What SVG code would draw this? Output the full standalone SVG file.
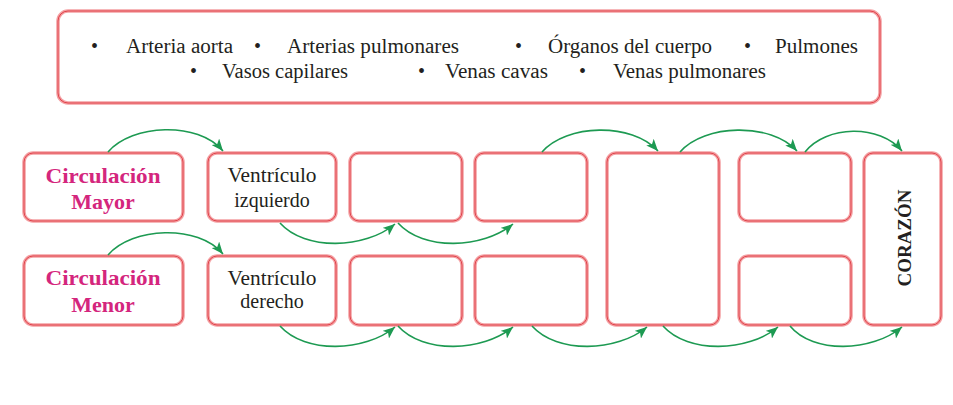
<svg xmlns="http://www.w3.org/2000/svg" width="953" height="405" viewBox="0 0 953 405">
<style>
.bx{fill:#fff;stroke:#f4a0a3;stroke-width:3.5}
.bi{fill:none;stroke:#e0424a;stroke-width:1}
.ar{fill:none;stroke:#1d9a52;stroke-width:1.6;marker-end:url(#ah)}
</style>
<defs>
<marker id="ah" markerUnits="userSpaceOnUse" markerWidth="13" markerHeight="10" refX="12" refY="5" orient="auto">
<path d="M0,0 L12,5 L0,10 L3,5 z" fill="#1d9a52"/>
</marker>
</defs>
<rect width="953" height="405" fill="#fff"/>
<g id="bank">
<rect class="bx" x="58" y="11" width="822" height="92" rx="10"/>
<rect class="bi" x="58" y="11" width="822" height="92" rx="10"/>
<g font-family="Liberation Serif" font-size="20" fill="#231f20">
<text x="91" y="52.5">•</text><text x="126" y="52.5" textLength="107" lengthAdjust="spacingAndGlyphs">Arteria aorta</text>
<text x="254" y="52.5">•</text><text x="287" y="52.5" textLength="172" lengthAdjust="spacingAndGlyphs">Arterias pulmonares</text>
<text x="515" y="52.5">•</text><text x="548" y="52.5" textLength="164" lengthAdjust="spacingAndGlyphs">Órganos del cuerpo</text>
<text x="744" y="52.5">•</text><text x="775" y="52.5" textLength="83" lengthAdjust="spacingAndGlyphs">Pulmones</text>
<text x="190" y="78">•</text><text x="222" y="78" textLength="126" lengthAdjust="spacingAndGlyphs">Vasos capilares</text>
<text x="418" y="78">•</text><text x="445" y="78" textLength="103" lengthAdjust="spacingAndGlyphs">Venas cavas</text>
<text x="579" y="78">•</text><text x="613" y="78" textLength="153" lengthAdjust="spacingAndGlyphs">Venas pulmonares</text>
</g>
</g>
<g id="n-mayor" font-family="Liberation Serif" font-size="22" font-weight="bold" fill="#d4267d" text-anchor="middle">
<rect class="bx" x="24" y="153" width="159" height="68" rx="9"/><rect class="bi" x="24" y="153" width="159" height="68" rx="9"/>
<text x="103" y="183" textLength="115" lengthAdjust="spacingAndGlyphs">Circulación</text>
<text x="103" y="209">Mayor</text>
</g>
<g id="n-menor" font-family="Liberation Serif" font-size="22" font-weight="bold" fill="#d4267d" text-anchor="middle">
<rect class="bx" x="24" y="256" width="159" height="69" rx="9"/><rect class="bi" x="24" y="256" width="159" height="69" rx="9"/>
<text x="103" y="285" textLength="115" lengthAdjust="spacingAndGlyphs">Circulación</text>
<text x="103" y="312">Menor</text>
</g>
<g id="n-vizq" font-family="Liberation Serif" font-size="20" fill="#231f20" text-anchor="middle">
<rect class="bx" x="208" y="153" width="128" height="68" rx="9"/><rect class="bi" x="208" y="153" width="128" height="68" rx="9"/>
<text x="272" y="182" textLength="89" lengthAdjust="spacingAndGlyphs">Ventrículo</text>
<text x="272" y="207">izquierdo</text>
</g>
<g id="n-vder" font-family="Liberation Serif" font-size="20" fill="#231f20" text-anchor="middle">
<rect class="bx" x="208" y="256" width="128" height="69" rx="9"/><rect class="bi" x="208" y="256" width="128" height="69" rx="9"/>
<text x="272" y="285" textLength="89" lengthAdjust="spacingAndGlyphs">Ventrículo</text>
<text x="272" y="308">derecho</text>
</g>
<g id="n-a3"><rect class="bx" x="350" y="153" width="112" height="68" rx="9"/><rect class="bi" x="350" y="153" width="112" height="68" rx="9"/></g>
<g id="n-b3"><rect class="bx" x="350" y="256" width="112" height="69" rx="9"/><rect class="bi" x="350" y="256" width="112" height="69" rx="9"/></g>
<g id="n-a4"><rect class="bx" x="475" y="153" width="112" height="68" rx="9"/><rect class="bi" x="475" y="153" width="112" height="68" rx="9"/></g>
<g id="n-b4"><rect class="bx" x="475" y="256" width="112" height="69" rx="9"/><rect class="bi" x="475" y="256" width="112" height="69" rx="9"/></g>
<g id="n-big"><rect class="bx" x="607" y="153" width="112" height="172" rx="9"/><rect class="bi" x="607" y="153" width="112" height="172" rx="9"/></g>
<g id="n-a6"><rect class="bx" x="739" y="153" width="112" height="68" rx="9"/><rect class="bi" x="739" y="153" width="112" height="68" rx="9"/></g>
<g id="n-b6"><rect class="bx" x="739" y="256" width="112" height="69" rx="9"/><rect class="bi" x="739" y="256" width="112" height="69" rx="9"/></g>
<g id="n-corazon">
<rect class="bx" x="864" y="153" width="77" height="172" rx="9"/><rect class="bi" x="864" y="153" width="77" height="172" rx="9"/>
<text font-family="Liberation Serif" font-size="19" font-weight="bold" fill="#231f20" transform="translate(911,238) rotate(-90)" x="0" y="0" text-anchor="middle" textLength="97" lengthAdjust="spacingAndGlyphs">CORAZÓN</text>
</g>
<g id="connectors">
<path class="ar" d="M108,152 C132,124 198,121 223,151"/>
<path class="ar" d="M108,255 C132,227 198,224 223,254"/>
<path class="ar" d="M280,223 C305,251 365,249 395,224"/>
<path class="ar" d="M398,223 C423,251 483,249 513,224"/>
<path class="ar" d="M542,152 C566,124 632,122 658,151"/>
<path class="ar" d="M680,152 C704,124 771,122 797,151"/>
<path class="ar" d="M805,152 C826,125 880,124 902,151"/>
<path class="ar" d="M280,326 C305,354 365,352 395,327"/>
<path class="ar" d="M398,326 C423,354 483,352 513,327"/>
<path class="ar" d="M532,326 C557,354 617,352 647,327"/>
<path class="ar" d="M663,326 C688,354 748,352 778,327"/>
<path class="ar" d="M790,326 C813,354 872,352 902,327"/>
</g>
</svg>
